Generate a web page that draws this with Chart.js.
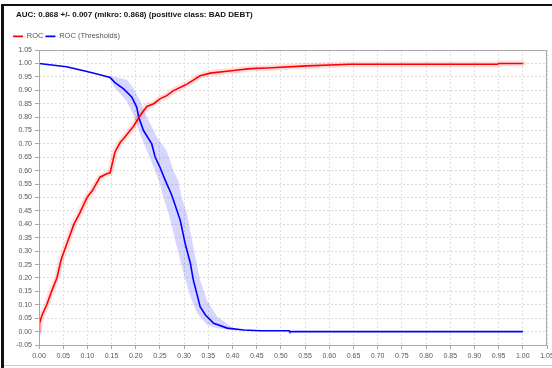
<!DOCTYPE html>
<html>
<head>
<meta charset="utf-8">
<script src="https://cdn.jsdelivr.net/npm/chart.js@4.4.1/dist/chart.umd.min.js"></script>
<style>
    html, body { margin: 0; padding: 0; background: #fff; }
    #frame { position: relative; width: 552px; height: 368px; overflow: hidden; }
    #frame canvas { position: absolute; left: 0; top: 0; }
    .edge-left { position: absolute; left: 1px; top: 4px; width: 3px; height: 364px; background: #111; }
    .edge-top { position: absolute; left: 1px; top: 4px; width: 551px; height: 2px; background: #111; }
    .edge-bottom { position: absolute; left: 4px; top: 365px; width: 548px; height: 1px; background: #ccc; }
</style>
</head>
<body>
<div id="frame">
    <canvas id="rocChart" width="552" height="368"></canvas>
    <div class="edge-left"></div>
    <div class="edge-top"></div>
    <div class="edge-bottom"></div>
</div>
<script>
const titleText = "AUC: 0.868 +/- 0.007 (mikro: 0.868) (positive class: BAD DEBT)";
const seriesNames = ["ROC", "ROC (Thresholds)"];

// ROC curve: false positive rate / true positive rate
const rocX = [0, 0.001, 0.006, 0.016, 0.026, 0.037, 0.046, 0.06, 0.072, 0.085, 0.099, 0.11, 0.126, 0.14, 0.147,
    0.157, 0.168, 0.175, 0.195, 0.209, 0.223, 0.237, 0.25, 0.264, 0.278, 0.299, 0.306, 0.333, 0.354, 0.402,
    0.437, 0.471, 0.554, 0.644, 0.948, 0.95, 1.0];
const rocY = [0, 0.03, 0.06, 0.10, 0.15, 0.20, 0.27, 0.34, 0.40, 0.445, 0.50, 0.525, 0.576, 0.589, 0.592,
    0.67, 0.706, 0.72, 0.765, 0.806, 0.84, 0.85, 0.868, 0.88, 0.899, 0.917, 0.923, 0.954, 0.964, 0.974,
    0.981, 0.983, 0.991, 0.997, 0.997, 1.0, 1.0];

// ROC (Thresholds)
const thrX = [0, 0.057, 0.099, 0.126, 0.147, 0.157, 0.175, 0.192, 0.202, 0.206, 0.216, 0.233, 0.24, 0.25,
    0.261, 0.273, 0.278, 0.292, 0.302, 0.313, 0.319, 0.327, 0.333, 0.344, 0.361, 0.389, 0.423, 0.458, 0.517,
    0.518, 1.0];
const thrY = [1.0, 0.988, 0.97, 0.958, 0.948, 0.929, 0.905, 0.874, 0.837, 0.80, 0.75, 0.70, 0.651, 0.613,
    0.564, 0.515, 0.49, 0.415, 0.329, 0.254, 0.192, 0.136, 0.093, 0.062, 0.031, 0.013, 0.006, 0.003, 0.003,
    0.0, 0.0];

// spread around the thresholds curve, outline traced left edge down, right edge back up
const thrBandX = [0.14, 0.143, 0.157, 0.181, 0.195, 0.209, 0.223, 0.237, 0.25, 0.257, 0.268, 0.285, 0.299,
    0.313, 0.327, 0.347, 0.368, 0.40, 0.42, 0.409, 0.396, 0.368, 0.347, 0.333, 0.319, 0.306, 0.295, 0.288,
    0.278, 0.264, 0.244, 0.223, 0.209, 0.195, 0.181, 0.161, 0.14];
const thrBandY = [0.955, 0.95, 0.91, 0.86, 0.81, 0.737, 0.675, 0.613, 0.552, 0.50, 0.44, 0.316, 0.217,
    0.13, 0.068, 0.025, 0.013, 0.005, 0.003, 0.006, 0.019, 0.056, 0.118, 0.192, 0.316, 0.44, 0.50, 0.564,
    0.60, 0.675, 0.725, 0.80, 0.86, 0.91, 0.94, 0.948, 0.955];

const xTicks = [0, 0.05, 0.1, 0.15, 0.2, 0.25, 0.3, 0.35, 0.4, 0.45, 0.5, 0.55, 0.6, 0.65, 0.7, 0.75, 0.8,
    0.85, 0.9, 0.95, 1.0, 1.05];
const yTicks = [-0.05, 0, 0.05, 0.1, 0.15, 0.2, 0.25, 0.3, 0.35, 0.4, 0.45, 0.5, 0.55, 0.6, 0.65, 0.7, 0.75,
    0.8, 0.85, 0.9, 0.95, 1.0, 1.05];

const palette = {
    red: "#ff0000",
    blue: "#0000ff",
    redBand: "rgba(255, 0, 0, .13)",
    blueBand: "rgba(0, 0, 255, .16)",
    grid: "#dddddd",
    frame: "#a8a8a8",
    text: "#555555"
};

function points(xs, ys) {
    return xs.map((x, i) => ({ x: x, y: ys[i] }));
}

const plotFrame = {
    id: "plotFrame",
    afterDatasetsDraw(chart) {
        const { ctx, chartArea: a } = chart;
        ctx.save();
        ctx.strokeStyle = palette.frame;
        ctx.lineWidth = 1;
        ctx.strokeRect(Math.round(a.left) + 0.5, Math.round(a.top) + 0.5,
            Math.round(a.right - a.left) - 1, Math.round(a.bottom - a.top));
        ctx.restore();
    }
};

const titleInset = {
    id: "titleInset",
    afterLayout(chart) {
        if (chart.titleBlock) chart.titleBlock.left += 5;
    }
};

function axis(ticks, extra) {
    return Object.assign({
        type: "linear",
        afterBuildTicks: scale => { scale.ticks = ticks.map(v => ({ value: v })); },
        grid: { color: palette.grid, drawTicks: true, tickLength: 4, tickColor: palette.frame, tickBorderDash: [] },
        border: { display: false, dash: [2, 2] },
        ticks: {
            color: palette.text,
            font: { size: 7 },
            autoSkip: false,
            maxRotation: 0,
            callback: v => Number(v).toFixed(2)
        }
    }, extra);
}

Chart.defaults.font.family = "'Liberation Sans', Arial, sans-serif";

new Chart(document.getElementById("rocChart"), {
    type: "scatter",
    data: {
        datasets: [
            {
                label: seriesNames[0],
                data: points(rocX, rocY),
                showLine: true,
                borderColor: palette.red,
                backgroundColor: palette.red,
                borderWidth: 1.6,
                pointRadius: 0,
                order: 1
            },
            {
                label: seriesNames[1],
                data: points(thrX, thrY),
                showLine: true,
                borderColor: palette.blue,
                backgroundColor: palette.blue,
                borderWidth: 1.6,
                pointRadius: 0,
                order: 1
            },
            {
                label: "roc band",
                data: points(rocX, rocY),
                showLine: true,
                borderColor: palette.redBand,
                borderWidth: 6,
                borderCapStyle: "round",
                borderJoinStyle: "round",
                pointRadius: 0,
                order: 5
            },
            {
                label: "threshold band",
                data: points(thrBandX, thrBandY),
                showLine: true,
                fill: "shape",
                borderWidth: 0,
                borderColor: "rgba(0,0,0,0)",
                backgroundColor: palette.blueBand,
                pointRadius: 0,
                order: 6
            }
        ]
    },
    options: {
        responsive: false,
        animation: false,
        layout: { padding: { left: 11, right: 5, top: 0, bottom: 0 } },
        plugins: {
            tooltip: { enabled: false },
            title: {
                display: true,
                text: titleText,
                align: "start",
                color: "#111",
                font: { size: 8, weight: "bold" },
                padding: { top: 10, bottom: 11 }
            },
            legend: {
                display: true,
                position: "top",
                align: "start",
                labels: {
                    usePointStyle: true,
                    pointStyle: "line",
                    pointStyleWidth: 10,
                    padding: 2,
                    color: palette.text,
                    font: { size: 7.5 },
                    filter: item => item.datasetIndex < 2
                }
            }
        },
        scales: {
            x: axis(xTicks, {
                min: 0,
                max: 1.05,
                afterFit: scale => { scale.height = 23; scale.paddingRight = 0; scale.paddingLeft = 0; }
            }),
            y: axis(yTicks, {
                min: -0.05,
                max: 1.05,
                afterFit: scale => { scale.width = 28; }
            })
        }
    },
    plugins: [plotFrame, titleInset]
});
</script>
</body>
</html>
